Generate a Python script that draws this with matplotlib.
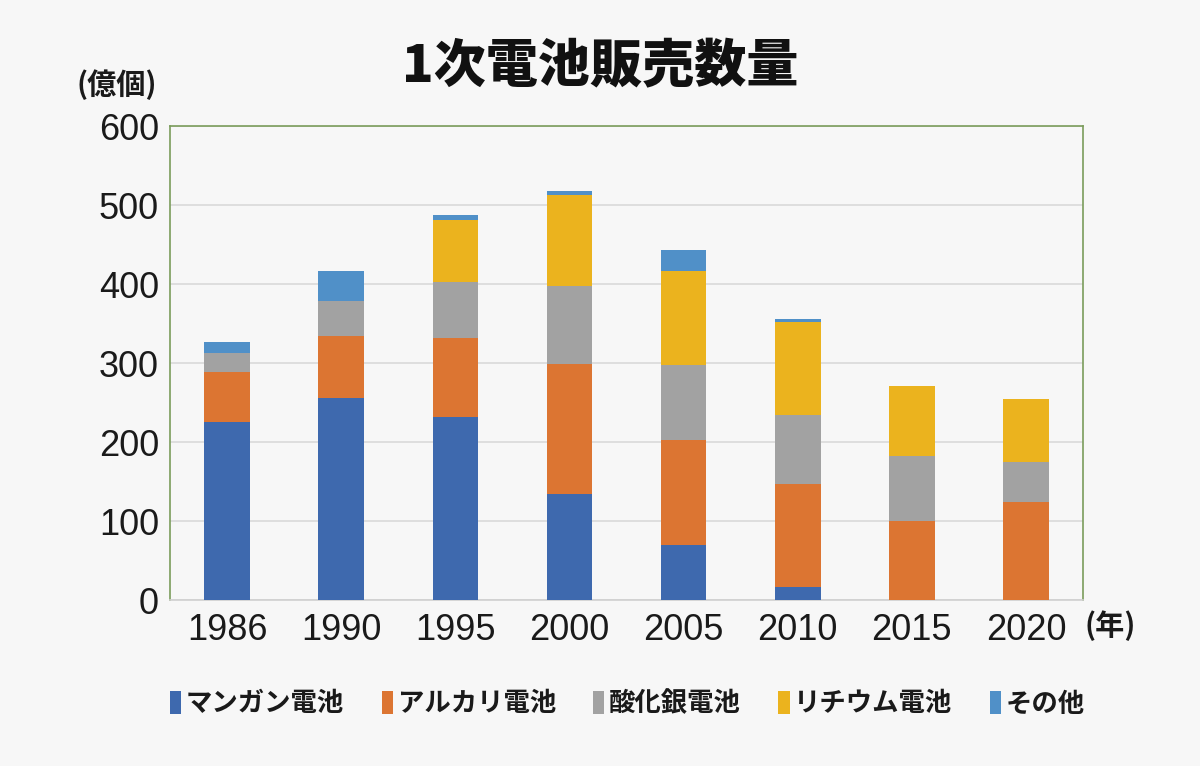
import matplotlib
matplotlib.use("Agg")
import matplotlib.pyplot as plt
import numpy as np

# data (unit: 100 million pieces)
years = ["1986", "1990", "1995", "2000", "2005", "2010", "2015", "2020"]
manganese = [225, 256, 232, 134, 70, 16, 0, 0]
alkaline = [64, 78, 100, 165, 132, 131, 100, 124]
silver_oxide = [24, 45, 71, 99, 95, 87, 82, 51]
lithium = [0, 0, 78, 115, 120, 118, 89, 79]
other = [14, 37, 6, 5, 26, 4, 0, 0]

series_names = ["マンガン電池", "アルカリ電池", "酸化銀電池", "リチウム電池", "その他"]
colors = ["#3e69ae", "#dc7532", "#a2a2a2", "#ebb31e", "#5090c8"]

plt.rcParams['font.family'] = ['Noto Sans CJK JP', 'DejaVu Sans']

bg = "#f7f7f7"
fig = plt.figure(figsize=(12, 7.66), dpi=100, facecolor=bg)
ax = fig.add_axes([0.1417, 0.2167, 0.7608, 0.6188])
ax.set_facecolor(bg)

x = np.arange(len(years))
bottom = np.zeros(len(years))
for name, vals, c in zip(series_names, [manganese, alkaline, silver_oxide, lithium, other], colors):
    ax.bar(x, vals, width=0.4, bottom=bottom, color=c, label=name, zorder=3)
    bottom += np.array(vals)

ax.set_xlim(-0.5, len(years) - 0.5)
ax.set_ylim(0, 600)
ax.set_yticks(range(0, 601, 100))
ax.set_xticks(x)
ax.set_xticklabels(years)
ax.yaxis.grid(True, color="#d9d9d9", linewidth=1.2, zorder=0)
ax.tick_params(length=0, labelsize=26, colors="#1a1a1a")
ax.tick_params(axis='x', pad=9)
ax.tick_params(axis='y', pad=8)
for lab in ax.get_xticklabels() + ax.get_yticklabels():
    lab.set_fontfamily('Liberation Sans')

for side in ["top", "left", "right"]:
    ax.spines[side].set_color("#7b9c5c")
    ax.spines[side].set_linewidth(1.2)
ax.spines["bottom"].set_color("#d0d0d0")
ax.spines["bottom"].set_linewidth(1.2)

# title and unit labels
fig.text(0.5, 0.912, "1次電池販売数量", ha="center", va="center",
         fontsize=37.5, fontweight="heavy", color="#111111")
fig.text(0.097, 0.889, "(億個)", ha="center", va="center",
         fontsize=21, fontweight="bold", color="#1a1a1a")
fig.text(0.925, 0.183, "(年)", ha="center", va="center",
         fontsize=21, fontweight="bold", color="#1a1a1a")

leg = fig.legend(loc="center", bbox_to_anchor=(0.523, 0.081), ncol=5,
                 frameon=False, fontsize=19, handlelength=0.42, handleheight=1.0,
                 handletextpad=0.18, columnspacing=1.42)
for t in leg.get_texts():
    t.set_fontweight("bold")
    t.set_color("#1a1a1a")

fig.savefig("out.png", dpi=100, facecolor=bg)
